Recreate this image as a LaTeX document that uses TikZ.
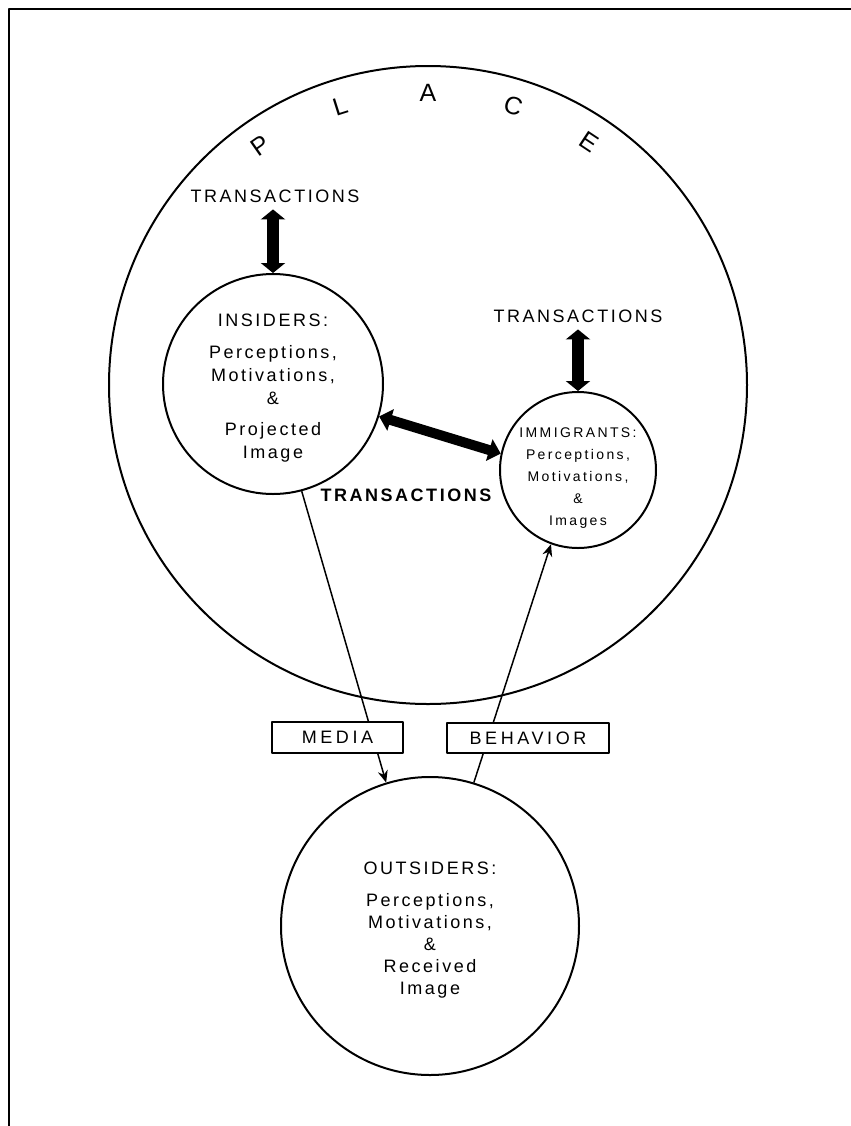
\documentclass[tikz,border=0pt]{standalone}
\usepackage{fontspec}
\setmainfont{Liberation Sans}
\newfontfamily\sptext{Liberation Sans}[LetterSpace=14]
\newfontfamily\smtext{Liberation Sans}[LetterSpace=17]
\newfontfamily\tagtext{Liberation Sans}[LetterSpace=20]
\usetikzlibrary{arrows.meta,calc}

\begin{document}
\begin{tikzpicture}[x=0.5pt, y=-0.5pt, line join=round,
    >={Stealth[length=6pt,width=5pt]},
    bubble/.style={draw, circle, line width=1pt, inner sep=0pt},
    inside/.style={align=center, inner sep=0pt},
    word/.style={font=\fontsize{9}{11}\sptext},
    tagbox/.style={draw, fill=white, line width=0.6pt, inner sep=0pt,
        font=\fontsize{9}{11}\tagtext},
    fatarrow/.style={line width=6pt,
        {Triangle[width=12pt,length=5pt]}-{Triangle[width=12pt,length=5pt]}},
    thinline/.style={line width=0.75pt, ->}]
    \useasboundingbox (0,0) rectangle (851,1126);

    % frame of the page
    \draw[line width=0.8pt] (851,9) -- (9,9) -- (9,1126);

    % the place
    \node[bubble, minimum size=319pt] (place) at (428,385) {};
    \foreach \ch/\ang in {P/125, L/107.5, A/90, C/73, E/56.5}
        \node[font=\fontsize{12.5}{12.5}\selectfont, rotate=\ang-90] (place-\ch)
            at ($(place.center)+(\ang:146pt)$) {\ch};

    % the three groups
    \node[bubble, minimum size=110pt] (insiders) at (273,384) {};
    \node[inside, font=\fontsize{9}{11.5}\sptext] (insidersText) at ($(insiders)+(0,4)$)
        {INSIDERS:\\[4.5pt] Perceptions,\\ Motivations,\\ \&\\[4pt] Projected\\ Image};
    \node[bubble, minimum size=78pt] (immigrants) at (578,470) {};
    \node[inside, font=\fontsize{7}{11}\smtext] (immigrantsText) at ($(immigrants)+(0,8)$)
        {IMMIGRANTS:\\ Perceptions,\\ Motivations,\\ \&\\ Images};
    \node[bubble, minimum size=149pt] (outsiders) at (430,926) {};
    \node[inside, font=\fontsize{9}{11}\sptext] (outsidersText) at ($(outsiders)+(0,4)$)
        {OUTSIDERS:\\[5pt] Perceptions,\\ Motivations,\\ \&\\ Received\\ Image};

    % transactions
    \node[word] (transIns) at (275,196) {TRANSACTIONS};
    \node[word] (transImm) at (578,316) {TRANSACTIONS};
    \node[word, font=\fontsize{9}{11}\sptext\bfseries] (transMid) at (406,495) {TRANSACTIONS};
    \draw[fatarrow] (insiders.north |- transIns.south) -- (insiders.north);
    \draw[fatarrow] (immigrants.north |- transImm.south) -- (immigrants.north);
    \draw[line width=5pt, {Triangle[width=11pt,length=6pt]}-{Triangle[width=11pt,length=6pt]}]
        (insiders.-17) -- (immigrants.168);

    % media and behavior
    \draw[thinline] (insiders.-75) -- (outsiders.107);
    \draw[thinline] (outsiders.73) -- (immigrants.-110);
    \node[tagbox, minimum width=65.5pt, minimum height=15.5pt] (media) at (337.5,737.5) {MEDIA};
    \node[tagbox, minimum width=81pt, minimum height=15pt] (behavior) at (528,738) {BEHAVIOR};
\end{tikzpicture}
\end{document}
